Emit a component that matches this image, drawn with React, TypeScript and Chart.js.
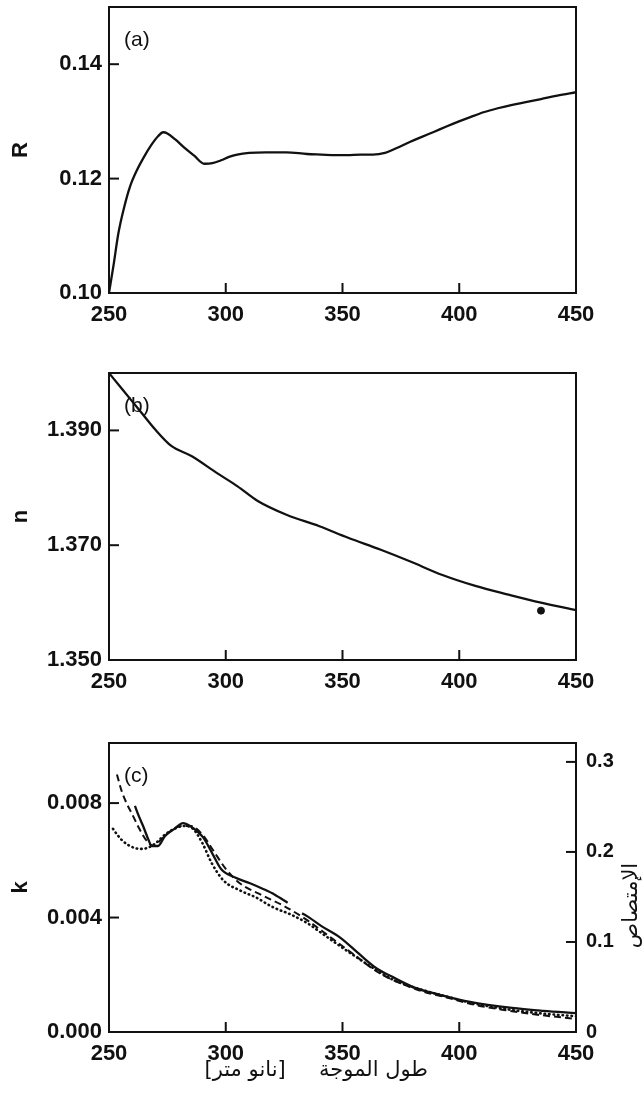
import React, { useEffect, useRef } from "react";
import { Chart, registerables } from "chart.js";
Chart.register(...registerables);

// ---------- shared axis ----------
const wavelengthTicks = [250, 300, 350, 400, 450];

// ---------- panel (a): reflectance R ----------
const wlR = [250, 252, 254, 256.5, 259, 262, 265, 268, 271, 273.2, 275, 278.5, 282, 286.5, 290.8, 294.3, 298, 301.4, 304.9, 310, 317.2, 326, 334.8, 341, 347.1, 352, 357.7, 363, 368.2, 373, 378.8, 384, 389.3, 394.5, 399.9, 405, 410.4, 416.5, 422.7, 429, 435, 442, 450];
const valR = [0.1000, 0.1050, 0.1104, 0.1150, 0.1186, 0.1215, 0.1238, 0.1258, 0.1274, 0.1281, 0.1279, 0.1268, 0.1255, 0.1240, 0.1226, 0.1227, 0.1232, 0.1238, 0.1242, 0.1245, 0.1246, 0.1246, 0.1243, 0.1242, 0.1241, 0.1241, 0.1242, 0.1242, 0.1245, 0.1253, 0.1264, 0.1273, 0.1282, 0.1291, 0.1300, 0.1308, 0.1316, 0.1323, 0.1329, 0.1334, 0.1339, 0.1345, 0.1351];
const rTicks = [0.10, 0.12, 0.14];

// ---------- panel (b): refractive index n ----------
const wlN = [250, 255.6, 262.7, 269.7, 276.7, 285.5, 296.1, 304.9, 313.7, 326, 340.1, 352.4, 366.4, 378.8, 392.8, 406.9, 421, 435, 450];
const valN = [1.4000, 1.3972, 1.3937, 1.3902, 1.3873, 1.3855, 1.3826, 1.3803, 1.3777, 1.3753, 1.3733, 1.3713, 1.3692, 1.3672, 1.3648, 1.3629, 1.3614, 1.3600, 1.3587];
const wlNMark = [435];
const valNMark = [1.3586];
const nTicks = [1.35, 1.37, 1.39];

// ---------- panel (c): extinction k and absorbance ----------
const wlKSolid = [261.1, 263, 264.6, 266.5, 268.4, 271, 274, 278, 281.7, 284.7, 290.3, 294.5, 298, 304, 310.4, 316, 321, 326.5, 329.5, 332.7, 336.1, 341, 349, 357.5, 365, 372, 380.2, 391.8, 404.6, 422.6, 436, 450];
const kSolid = [0.0079, 0.0075, 0.0072, 0.0068, 0.0065, 0.0065, 0.00685, 0.0071, 0.0073, 0.0072, 0.0068, 0.0062, 0.0057, 0.0054, 0.0052, 0.0050, 0.0048, 0.00452, null, 0.00415, 0.00398, 0.0037, 0.0033, 0.0027, 0.0022, 0.0019, 0.00157, 0.0013, 0.00105, 0.00084, 0.00074, 0.00066];
const wlKDashed = [253.4, 255.5, 257.5, 260, 263, 266, 269, 272, 276, 281, 285, 290, 295, 300, 306, 315, 325, 335, 345, 355, 365, 375, 385, 395, 405, 420, 435, 450];
const kDashed = [0.0090, 0.0084, 0.0080, 0.0076, 0.0071, 0.0067, 0.0065, 0.0067, 0.0070, 0.0072, 0.0072, 0.0069, 0.0063, 0.0057, 0.0052, 0.0048, 0.0044, 0.0039, 0.0033, 0.0027, 0.0021, 0.0017, 0.0014, 0.0012, 0.00098, 0.00076, 0.00059, 0.00046];
const wlKDotted = [251.7, 253.5, 255.6, 258, 261, 264, 267, 270, 274, 278, 282, 286, 290, 294, 299, 306, 313, 320, 328, 335, 342, 349, 360, 371, 383, 395, 405, 420, 435, 450];
const kDotted = [0.0071, 0.0069, 0.0067, 0.00655, 0.00643, 0.0064, 0.00645, 0.0066, 0.0069, 0.0071, 0.0072, 0.0071, 0.0066, 0.0059, 0.0053, 0.00495, 0.0047, 0.00437, 0.0041, 0.0038, 0.0034, 0.0030, 0.0024, 0.00185, 0.0015, 0.00123, 0.00102, 0.0008, 0.00065, 0.00055];
const kTicks = [0, 0.004, 0.008];
const absTicks = [0, 0.1, 0.2, 0.3];

// ---------- text ----------
const xTitleC = "\u200Fطول الموجة     [نانو متر]\u200F\u2003\u2003\u2002";
const rightTitleC = "الإمتصاص";

const FONT = "'Liberation Sans', Arial, sans-serif";
const AR_FONT = "'DejaVu Sans', sans-serif";
const INK = "#111";

const toXY = (xs: number[], ys: (number | null)[]) => xs.map((x, i) => ({ x, y: ys[i] }));

const frameTicksPlugin = {
  id: "frameTicks",
  afterDraw(chart: any, _args: any, opts: any) {
    const { ctx, chartArea: a } = chart;
    ctx.save();
    ctx.strokeStyle = INK;
    ctx.lineWidth = 2;
    ctx.strokeRect(a.left, a.top, a.right - a.left, a.bottom - a.top);
    const len = 10;
    Object.values(chart.scales).forEach((s: any) => {
      s.ticks.forEach((t: any) => {
        const p = s.getPixelForValue(t.value);
        ctx.beginPath();
        if (s.axis === "x") {
          ctx.moveTo(p, a.bottom);
          ctx.lineTo(p, a.bottom - len);
        } else if (s.position === "left") {
          ctx.moveTo(a.left, p);
          ctx.lineTo(a.left + len, p);
        } else {
          ctx.moveTo(a.right, p);
          ctx.lineTo(a.right - len, p);
        }
        ctx.stroke();
      });
    });
    ctx.fillStyle = INK;
    if (opts && opts.label) {
      ctx.font = `21px ${FONT}`;
      ctx.textBaseline = "middle";
      ctx.textAlign = "left";
      ctx.fillText(opts.label, a.left + 15, a.top + 33);
    }
    if (opts && opts.rightTitle) {
      ctx.save();
      ctx.translate(a.right + 56, (a.top + a.bottom) / 2 + 18);
      ctx.rotate(-Math.PI / 2);
      ctx.font = `21px ${AR_FONT}`;
      ctx.textAlign = "center";
      ctx.textBaseline = "middle";
      ctx.fillText(opts.rightTitle, 0, 0);
      ctx.restore();
    }
    ctx.restore();
  },
};

const fixSize = (size: number) => (scale: any) => {
  if (scale.isHorizontal()) scale.height = size;
  else scale.width = size;
  scale.paddingLeft = 0;
  scale.paddingRight = 0;
  scale.paddingTop = 0;
  scale.paddingBottom = 0;
};
const setTicks = (vals: number[]) => (scale: any) => {
  scale.ticks = vals.map((v) => ({ value: v }));
};

const tickFont = { family: FONT, size: 22, weight: "bold" as const };

const xScale = (height: number, title?: any) => ({
  type: "linear",
  position: "bottom",
  min: 250,
  max: 450,
  afterBuildTicks: setTicks(wavelengthTicks),
  afterFit: fixSize(height),
  grid: { display: false, drawTicks: false },
  border: { display: false },
  ticks: { font: tickFont, color: INK, padding: 9, maxRotation: 0, autoSkip: false, callback: (v: any) => String(v) },
  title: title || { display: false },
});

const yLeft = (min: number, max: number, ticks: number[], digits: number, text: string) => ({
  type: "linear",
  position: "left",
  min,
  max,
  afterBuildTicks: setTicks(ticks),
  afterFit: fixSize(109),
  grid: { display: false, drawTicks: false },
  border: { display: false },
  ticks: { font: tickFont, color: INK, padding: 7, autoSkip: false, callback: (v: any) => Number(v).toFixed(digits) },
  title: { display: true, text, color: INK, font: { family: FONT, size: 22, weight: "bold" }, padding: { top: 8, bottom: 0 } },
});

const baseOptions = (padding: any, pluginOpts: any, scales: any) => ({
  responsive: false,
  maintainAspectRatio: false,
  animation: false,
  devicePixelRatio: 1,
  layout: { padding },
  plugins: { legend: { display: false }, tooltip: { enabled: false }, frameTicks: pluginOpts },
  scales,
});

const solidLine = { borderColor: INK, borderWidth: 2.3, pointRadius: 0, fill: false, cubicInterpolationMode: "monotone" };

const configA = () => ({
  type: "line",
  data: { datasets: [{ ...solidLine, data: toXY(wlR, valR) }] },
  options: baseOptions({ left: 0, right: 68, top: 7, bottom: 0 }, { label: "(a)" }, {
    x: xScale(37),
    y: yLeft(0.1, 0.15, rTicks, 2, "R"),
  }),
  plugins: [frameTicksPlugin],
});

const configB = () => ({
  type: "line",
  data: {
    datasets: [
      { ...solidLine, data: toXY(wlN, valN) },
      { data: toXY(wlNMark, valNMark), showLine: false, pointRadius: 3.5, pointBackgroundColor: INK, pointBorderColor: INK },
    ],
  },
  options: baseOptions({ left: 0, right: 68, top: 43, bottom: 0 }, { label: "(b)" }, {
    x: xScale(40),
    y: yLeft(1.35, 1.4, nTicks, 3, "n"),
  }),
  plugins: [frameTicksPlugin],
});

const configC = () => ({
  type: "line",
  data: {
    datasets: [
      { ...solidLine, data: toXY(wlKSolid, kSolid), yAxisID: "y" },
      { ...solidLine, borderWidth: 2, borderDash: [7, 4], data: toXY(wlKDashed, kDashed), yAxisID: "y" },
      { ...solidLine, borderWidth: 2.6, borderDash: [0.5, 4], borderCapStyle: "round", data: toXY(wlKDotted, kDotted), yAxisID: "y" },
    ],
  },
  options: baseOptions({ left: 0, right: 0, top: 43, bottom: 0 }, { label: "(c)", rightTitle: rightTitleC }, {
    x: xScale(67, {
      display: true,
      text: xTitleC,
      color: INK,
      font: { family: AR_FONT, size: 21, weight: "normal" },
      padding: { top: 0, bottom: 16 },
    }),
    y: yLeft(0, 0.0101, kTicks, 3, "k"),
    y2: {
      type: "linear",
      position: "right",
      min: 0,
      max: 0.321,
      afterBuildTicks: setTicks(absTicks),
      afterFit: fixSize(68),
      grid: { display: false, drawTicks: false },
      border: { display: false },
      ticks: {
        font: { family: FONT, size: 20, weight: "bold" },
        color: INK,
        padding: 10,
        autoSkip: false,
        callback: (v: any) => (Number(v) === 0 ? "0" : Number(v).toFixed(1)),
      },
      title: { display: false },
    },
  }),
  plugins: [frameTicksPlugin],
});

function Panel({ top, height, make }: { top: number; height: number; make: () => any }) {
  const ref = useRef<HTMLCanvasElement>(null);
  useEffect(() => {
    const chart = new Chart(ref.current as HTMLCanvasElement, make());
    return () => chart.destroy();
  }, []);
  return (
    <canvas
      ref={ref}
      width={644}
      height={height}
      style={{ position: "absolute", left: 0, top, width: 644, height, display: "block" }}
    />
  );
}

export default function App() {
  return (
    <div style={{ position: "absolute", left: 0, top: 0, width: 644, height: 1099, background: "#fff", overflow: "hidden" }}>
      <Panel top={0} height={330} make={configA} />
      <Panel top={330} height={370} make={configB} />
      <Panel top={700} height={399} make={configC} />
    </div>
  );
}
